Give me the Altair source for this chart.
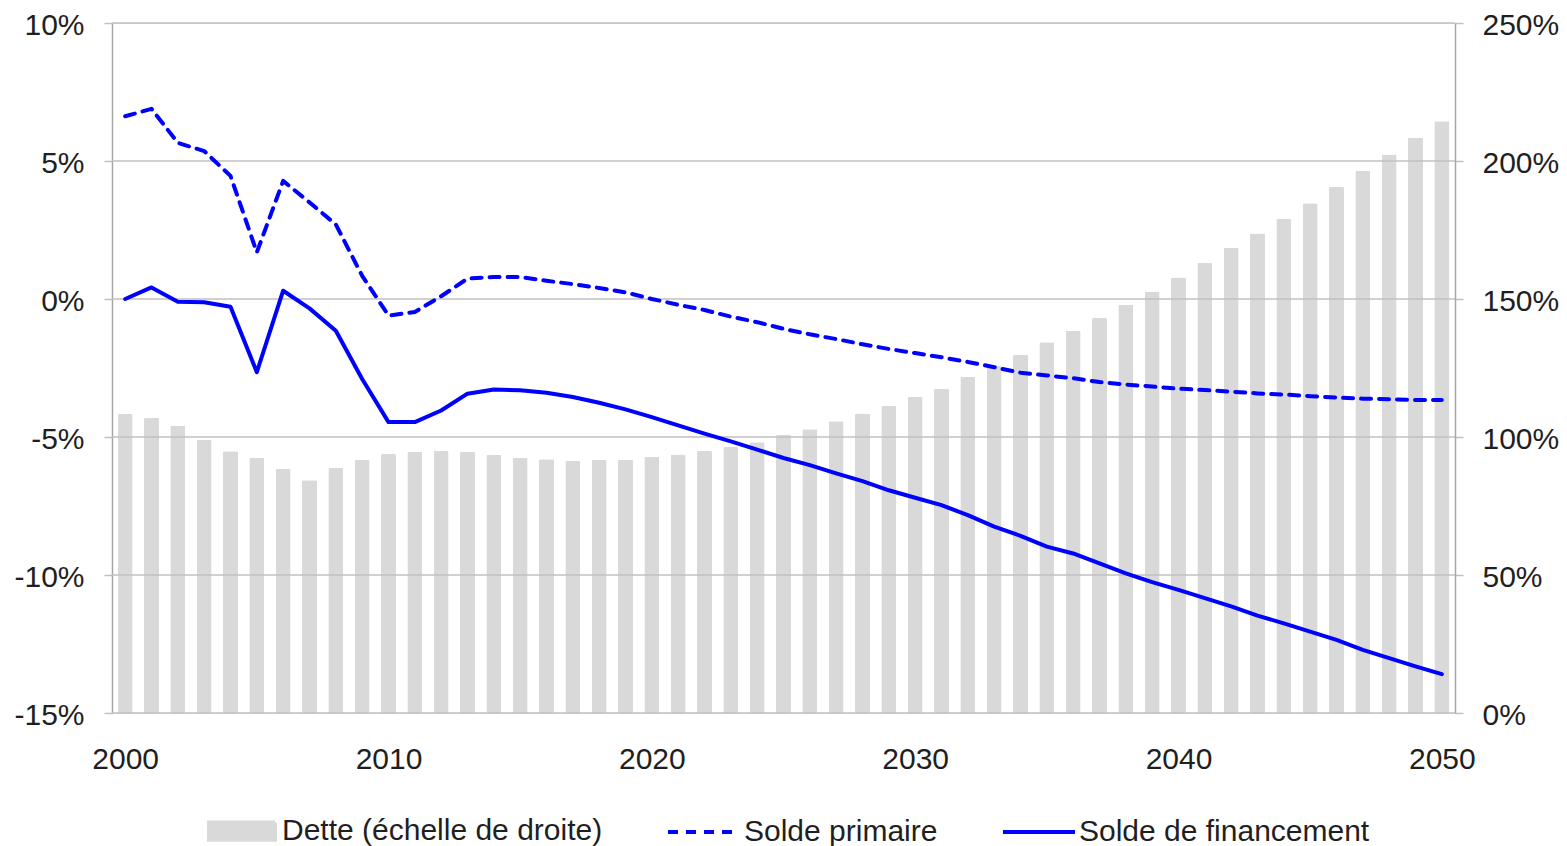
import altair as alt
import pandas as pd

FONT = "Liberation Sans"
TXT = "#1f1f1f"

years = list(range(2000, 2051))

dette = [108.3, 106.9, 104.1, 99.0, 94.8, 92.4, 88.4, 84.3, 88.8, 91.7,
         93.8, 94.6, 94.9, 94.6, 93.5, 92.5, 91.9, 91.3, 91.8, 91.8,
         92.8, 93.7, 94.9, 96.4, 98.1, 100.7, 102.8, 105.7, 108.5, 111.2,
         114.5, 117.5, 121.7, 125.7, 129.8, 134.3, 138.5, 143.1, 147.9, 152.7,
         157.8, 163.0, 168.6, 173.7, 179.1, 184.7, 190.6, 196.4, 202.4, 208.4,
         214.4]

solde_primaire = [6.62, 6.89, 5.66, 5.36, 4.46, 1.69, 4.28, 3.50, 2.70, 0.84,
                  -0.60, -0.47, 0.10, 0.74, 0.80, 0.80, 0.66, 0.54, 0.40, 0.24,
                  0.00, -0.21, -0.40, -0.64, -0.84, -1.08, -1.28, -1.45, -1.64, -1.81,
                  -1.96, -2.11, -2.28, -2.47, -2.67, -2.77, -2.87, -3.01, -3.10, -3.17,
                  -3.25, -3.30, -3.36, -3.42, -3.46, -3.52, -3.57, -3.61, -3.63, -3.66,
                  -3.66]

solde_financement = [0.00, 0.42, -0.10, -0.12, -0.28, -2.65, 0.30, -0.34, -1.15, -2.90,
                     -4.46, -4.46, -4.04, -3.43, -3.28, -3.31, -3.40, -3.55, -3.76, -4.00,
                     -4.28, -4.58, -4.88, -5.16, -5.46, -5.76, -6.02, -6.32, -6.60, -6.93,
                     -7.20, -7.47, -7.83, -8.25, -8.58, -8.97, -9.22, -9.58, -9.94, -10.26,
                     -10.54, -10.84, -11.14, -11.47, -11.75, -12.05, -12.35, -12.71, -13.01, -13.31,
                     -13.59]

left_ticks = [-15, -10, -5, 0, 5, 10]
right_ticks = [0, 50, 100, 150, 200, 250]
x_ticks = [2000, 2010, 2020, 2030, 2040, 2050]

S_DET = "Dette (échelle de droite)"
S_PRIM = "Solde primaire"
S_FIN = "Solde de financement"
series = [S_DET, S_PRIM, S_FIN]
colors = ["#d9d9d9", "#0000ff", "#0000ff"]

df_bars = pd.DataFrame({"year": years, "value": dette, "series": S_DET})
df_prim = pd.DataFrame({"year": years, "value": solde_primaire, "series": S_PRIM})
df_fin = pd.DataFrame({"year": years, "value": solde_financement, "series": S_FIN})
df_grid = pd.DataFrame({"v": left_ticks})

is_det = f"datum.value == '{S_DET}'"
legend = alt.Legend(
    title=None,
    orient="none",
    legendX=115,
    legendY=793,
    direction="horizontal",
    columns=3,
    columnPadding=57,
    labelOffset=25,
    labelFontSize=30,
    labelFont=FONT,
    labelColor=TXT,
    labelLimit=800,
    symbolSize=576,
    padding=0,
    symbolOpacity=1,
    symbolType=alt.ExprRef(expr=f"{is_det} ? 'M-2.75,-0.72H2.75V0.72H-2.75Z' : 'M-3,0H3'"),
    symbolStrokeColor=alt.ExprRef(expr=f"{is_det} ? '#d9d9d9' : '#0000ff'"),
    symbolFillColor=alt.ExprRef(expr=f"{is_det} ? '#d9d9d9' : 'transparent'"),
    symbolDash=alt.ExprRef(expr=f"datum.value == '{S_PRIM}' ? [10, 8] : [1, 0]"),
    symbolStrokeWidth=4,
)

color = alt.Color("series:N", scale=alt.Scale(domain=series, range=colors), legend=legend)

X = alt.X(
    "year:Q",
    scale=alt.Scale(domain=[1999.5, 2050.5], nice=False, zero=False, padding=0),
    axis=alt.Axis(
        values=x_ticks, format="d", title=None, grid=False, domain=False, ticks=False,
        tickSize=0, labelPadding=31, labelFontSize=30, labelFont=FONT, labelColor=TXT,
        labelFlush=False,
    ),
)

axis_left = alt.Axis(
    orient="left", values=left_ticks, labelExpr="datum.value + '%'", title=None,
    grid=False, domain=True, domainColor="#a6a6a6", domainWidth=1.5,
    ticks=True, tickColor="#c0c0c0", tickWidth=1.5, tickSize=8,
    labelPadding=20, labelFontSize=30, labelFont=FONT, labelColor=TXT,
    labelOffset=2, minExtent=104, maxExtent=104,
)

axis_right = alt.Axis(
    orient="right", values=right_ticks, labelExpr="datum.value + '%'", title=None,
    grid=False, domain=True, domainColor="#a6a6a6", domainWidth=1.5,
    ticks=True, tickColor="#c0c0c0", tickWidth=1.5, tickSize=8,
    labelPadding=19, labelFontSize=30, labelFont=FONT, labelColor=TXT,
    labelOffset=2, minExtent=100, maxExtent=100,
)

left_scale = alt.Scale(domain=[-15, 10], nice=False, zero=False)

bars = alt.Chart(df_bars).mark_bar(size=15, cornerRadius=1.5).encode(
    x=X,
    y=alt.Y("value:Q", scale=alt.Scale(domain=[0, 250], nice=False), axis=axis_right),
    color=color,
)

grid = alt.Chart(df_grid).mark_rule(color="#c0c0c0", strokeWidth=1.5).encode(
    y=alt.Y("v:Q", scale=left_scale, axis=axis_left),
)

line_prim = alt.Chart(df_prim).mark_line(
    strokeWidth=4, strokeDash=[10, 8], strokeCap="round", strokeJoin="round"
).encode(
    x=X,
    y=alt.Y("value:Q", scale=left_scale, axis=axis_left),
    color=color,
)

line_fin = alt.Chart(df_fin).mark_line(
    strokeWidth=4, strokeCap="round", strokeJoin="round"
).encode(
    x=X,
    y=alt.Y("value:Q", scale=left_scale, axis=axis_left),
    color=color,
)

left_layer = alt.layer(grid, line_prim, line_fin)

chart = (
    alt.layer(bars, left_layer)
    .resolve_scale(y="independent")
    .properties(width=1343, height=690, padding={"left": 0, "top": 2, "right": 0, "bottom": 0})
    .configure_view(strokeWidth=0)
    .configure(background="white")
)

chart.save("out.html", embed_options={"renderer": "svg", "actions": False})
